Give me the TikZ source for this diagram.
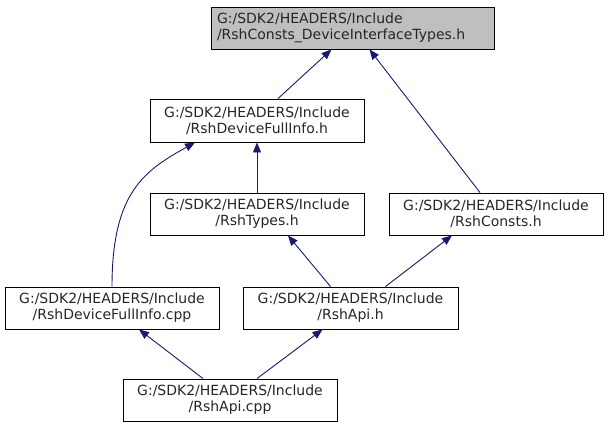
\documentclass[tikz,border=0pt]{standalone}
\usepackage{fontspec}
\setmainfont{DejaVu Sans}
\usetikzlibrary{arrows.meta,calc}
\definecolor{edgeblue}{HTML}{191970}
\definecolor{topgray}{HTML}{BFBFBF}
\begin{document}
\begin{tikzpicture}[x=1pt,y=-1pt,
  filebox/.style={draw=black,line width=0.9pt,rectangle,minimum width=214pt,minimum height=42pt,
    inner sep=0pt,text width=196pt,align=center,font=\fontsize{14}{16}\selectfont,text=black!85},
  dep/.style={draw=edgeblue,line width=0.9pt,-{Triangle[length=10pt,width=8pt]}}]
\useasboundingbox (0,0) rectangle (608,429);
\node[filebox,fill=topgray,text width=271pt,inner xsep=6pt,align=left,minimum height=42pt] (top) at (352.5,28)
  {G:/SDK2/HEADERS/Include\\/RshConsts\_DeviceInterfaceTypes.h};
\node[filebox,minimum height=43pt] (dfih) at (257,120.5) {G:/SDK2/HEADERS/Include\\/RshDeviceFullInfo.h};
\node[filebox] (types) at (257,214) {G:/SDK2/HEADERS/Include\\/RshTypes.h};
\node[filebox] (consts) at (496,214) {G:/SDK2/HEADERS/Include\\/RshConsts.h};
\node[filebox] (dficpp) at (112,308) {G:/SDK2/HEADERS/Include\\/RshDeviceFullInfo.cpp};
\node[filebox,minimum width=215pt] (apih) at (350.5,308) {G:/SDK2/HEADERS/Include\\/RshApi.h};
\node[filebox] (apicpp) at (230,400) {G:/SDK2/HEADERS/Include\\/RshApi.cpp};
% edges
\draw[dep] ([xshift=21pt]dfih.north) -- ([xshift=-21pt]top.south);
\draw[dep] ([xshift=-16pt]consts.north) -- ([xshift=17pt]top.south);
\draw[dep] (types.north) -- (dfih.south);
\draw[dep] (dficpp.north) .. controls +(0,-95) and +(-50,28) .. ([xshift=-62pt]dfih.south);
\draw[dep] ([xshift=-20pt]apih.north) -- ([xshift=31pt]types.south);
\draw[dep] ([xshift=35pt]apih.north) -- ([xshift=-44pt]consts.south);
\draw[dep] ([xshift=-27pt]apicpp.north) -- ([xshift=27pt]dficpp.south);
\draw[dep] ([xshift=27pt]apicpp.north) -- ([xshift=-28pt]apih.south);
\end{tikzpicture}
\end{document}
